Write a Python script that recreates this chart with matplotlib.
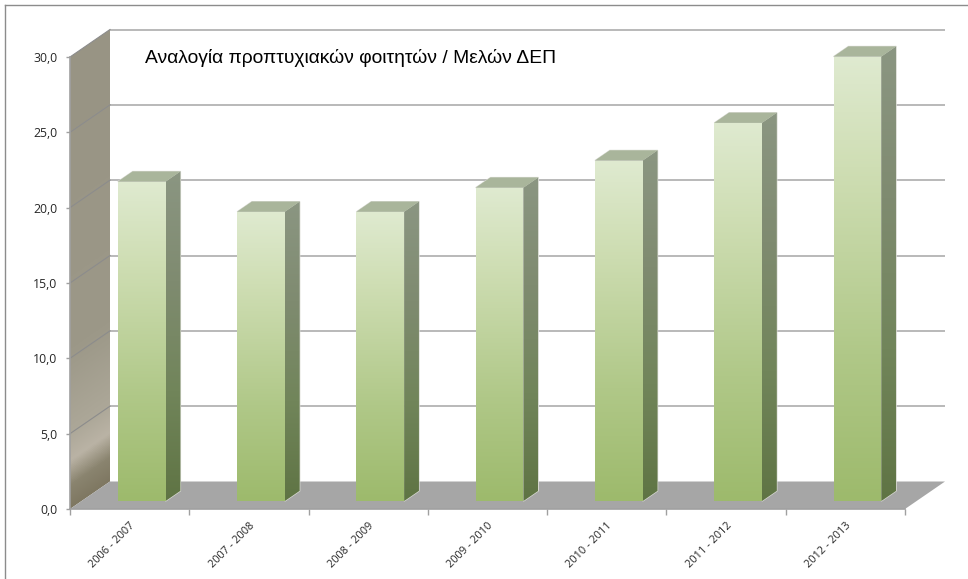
"""Ratio of undergraduates to faculty members, drawn as a 3D-look column chart."""

import numpy as np
import matplotlib.pyplot as plt
from matplotlib.colors import LinearSegmentedColormap
from matplotlib.lines import Line2D
from matplotlib.patches import Polygon

years = ["2006 - 2007", "2007 - 2008", "2008 - 2009", "2009 - 2010",
         "2010 - 2011", "2011 - 2012", "2012 - 2013"]
ratios = [21.2, 19.2, 19.2, 20.8, 22.6, 25.1, 29.5]
y_ticks = [0, 5, 10, 15, 20, 25, 30]
y_labels = ["0,0", "5,0", "10,0", "15,0", "20,0", "25,0", "30,0"]
title = "Αναλογία προπτυχιακών φοιτητών / Μελών ΔΕΠ"

W, H = 968, 579
LEFT, RIGHT, BOTTOM, TOP = 70, 905, 509, 57
DEPTH_X = 40 / ((RIGHT - LEFT) / 7)   # wall depth, in category units
DEPTH_Y = 27.5 / ((BOTTOM - TOP) / 30)  # wall depth, in value units
BAR_WIDTH = 0.40
BAR_D0 = 0.29
BAR_D1 = 0.66
BAR_NUDGE = 0.004


def shift(x, v, d):
    return x + d * DEPTH_X, v + d * DEPTH_Y


def gradient_face(ax, fig, corners, colors, vmin, vmax, zorder, slant=0.0):
    # slant tilts the gradient along the depth direction of the face
    cmap = LinearSegmentedColormap.from_list("face", colors)
    xs = [c[0] for c in corners]
    patch = Polygon(corners, closed=True, transform=ax.transData,
                    fc="none", ec="none", clip_on=False)
    ax.add_patch(patch)
    u, t = np.meshgrid(np.linspace(0, 1, 64), np.linspace(1, 0, 512))
    ramp = np.clip((t - slant * u) / (1 - slant), 0, 1)
    im = ax.imshow(ramp, cmap=cmap, vmin=0, vmax=1, aspect="auto",
                   extent=(min(xs), max(xs), vmin, vmax), zorder=zorder)
    im.set_clip_box(fig.bbox)
    im.set_clip_path(patch)


fig = plt.figure(figsize=(W / 100, H / 100), dpi=100)
ax = fig.add_axes([LEFT / W, 1 - BOTTOM / H, (RIGHT - LEFT) / W, (BOTTOM - TOP) / H])
ax.patch.set_alpha(0)

# left wall
wall = [shift(0, 0, 0), shift(0, 30, 0), shift(0, 30, 1), shift(0, 0, 1)]
wall_colors = [(0, "#7f7862"), (0.05, "#8a846f"), (0.105, "#bab3a5"), (0.17, "#aca798"),
               (0.35, "#9c9888"), (1, "#989484")]
gradient_face(ax, fig, wall, wall_colors, 0, 30 + DEPTH_Y, 1,
              slant=DEPTH_Y / (30 + DEPTH_Y))

# floor
floor = [shift(0, 0, 0), shift(7, 0, 0), shift(7, 0, 1), shift(0, 0, 1)]
ax.add_patch(Polygon(floor, closed=True, fc="#a6a6a6", ec="none", zorder=1, clip_on=False))

# gridlines on the back wall and the left wall
for v in y_ticks[1:]:
    x0, y0 = shift(0, v, 1)
    x1, y1 = shift(7, v, 1)
    ax.plot([x0, x1], [y0, y1], color="#b3b3b3", lw=1.3, zorder=2, clip_on=False,
            solid_capstyle="butt")
    ax.plot([0, x0], [v, y0], color="#8c8c8c", lw=0.8, zorder=2, clip_on=False)

# bars
front_colors = [(0, "#9dba6c"), (0.33, "#b0c888"), (0.75, "#cfdeb4"), (1, "#dfead0")]
side_colors = ["#5f7444", "#71855a", "#7f8b70", "#8b9682"]
for i, val in enumerate(ratios):
    x0 = i + 0.5 - BAR_WIDTH / 2 + BAR_NUDGE
    x1 = i + 0.5 + BAR_WIDTH / 2 + BAR_NUDGE
    fx0, fb = shift(x0, 0, BAR_D0)
    fx1, ft = shift(x1, val, BAR_D0)
    bx0, bt = shift(x0, val, BAR_D1)
    bx1, bb = shift(x1, 0, BAR_D1)
    z = 5 + i
    front = [(fx0, fb), (fx1, fb), (fx1, ft), (fx0, ft)]
    side = [(fx1, fb), (bx1, bb), (bx1, bt), (fx1, ft)]
    top = [(fx0, ft), (fx1, ft), (bx1, bt), (bx0, bt)]
    ax.add_patch(Polygon(side, closed=True, fc="none", ec="#d8dad2", lw=1.0,
                         zorder=z, clip_on=False))
    ax.add_patch(Polygon(top, closed=True, fc="#a9b59b", ec="#d8dad2", lw=0.8,
                         zorder=z, clip_on=False))
    gradient_face(ax, fig, side, side_colors, fb, bt, z + 0.1)
    gradient_face(ax, fig, front, front_colors, fb, ft, z + 0.2)
    ax.add_patch(Polygon(top, closed=True, fc="#a9b59b", ec="none", zorder=z + 0.3,
                         clip_on=False))

ax.set_xlim(0, 7)
ax.set_ylim(0, 30)

ax.set_yticks(y_ticks)
ax.set_yticklabels(y_labels, fontfamily="Open Sans", fontsize=8.8, color="#262626")
ax.set_xticks(np.arange(0, 8))
ax.set_xticklabels([])
ax.set_xticks(np.arange(7) + 0.5, minor=True)
ax.set_xticklabels(years, minor=True, rotation=45, ha="right", rotation_mode="anchor",
                   fontfamily="Open Sans", fontsize=7.9, color="#262626")
ax.tick_params(axis="x", which="minor", length=0, pad=8)
ax.tick_params(axis="x", which="major", length=4, color="#a0a0a0", width=1)
ax.tick_params(axis="y", length=3, color="#a0a0a0", width=1, pad=6)
for name in ("top", "right"):
    ax.spines[name].set_visible(False)
for name in ("left", "bottom"):
    ax.spines[name].set_color("#a0a0a0")
    ax.spines[name].set_linewidth(1.2)
    ax.spines[name].set_zorder(3)

fig.text(145 / W, 1 - 58 / H, title, family="Liberation Sans", fontsize=13.9,
         color="black", ha="left", va="center")

# frame of the chart area, only top and left are inside the crop
fig.add_artist(Line2D([5 / W, 5 / W], [0, 1 - 5 / H], color="#8c8c8c", lw=1))
fig.add_artist(Line2D([5 / W, 1], [1 - 5 / H, 1 - 5 / H], color="#8c8c8c", lw=1))

fig.savefig("out.png", dpi=100, facecolor="white")
